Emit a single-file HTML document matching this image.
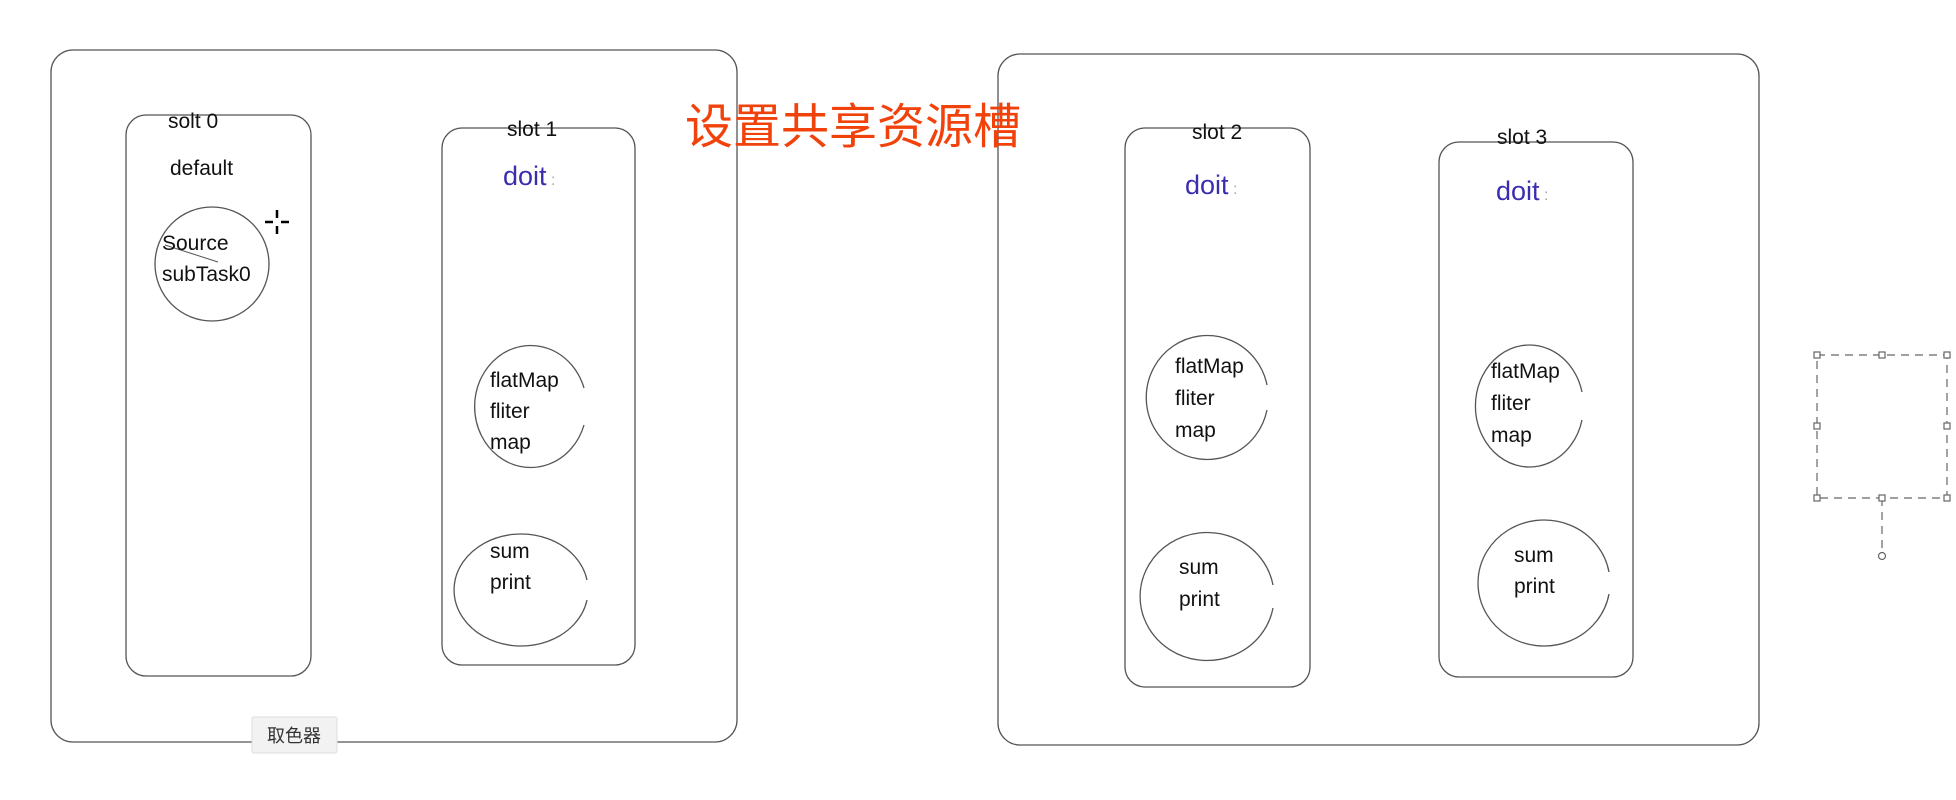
<!DOCTYPE html>
<html><head><meta charset="utf-8"><style>
body{margin:0;background:#fff;width:1956px;height:800px;overflow:hidden}
svg{display:block}
text{font-family:"Liberation Sans","Noto Sans CJK SC",sans-serif;fill:#111}
</style></head><body>
<svg width="1956" height="800" viewBox="0 0 1956 800" xmlns="http://www.w3.org/2000/svg">
<g fill="none" stroke="#555" stroke-width="1.3">
<rect x="51" y="50" width="686" height="692" rx="22"/>
<rect x="998" y="54" width="761" height="691" rx="22"/>
<rect x="126" y="115" width="185" height="561" rx="20"/>
<rect x="442" y="128" width="193" height="537" rx="20"/>
<rect x="1125" y="128" width="185" height="559" rx="20"/>
<rect x="1439" y="142" width="194" height="535" rx="20"/>
<ellipse cx="212" cy="264" rx="57" ry="57"/>
<path d="M584 388 A56 61 0 1 0 584 425"/>
<path d="M587 580 A67 56 0 1 0 587 600"/>
<path d="M1267 385 A61 62 0 1 0 1267 410"/>
<path d="M1273 585 A67 64 0 1 0 1273 608"/>
<path d="M1582 392 A54 61 0 1 0 1582 420"/>
<path d="M1609 572 A66 63 0 1 0 1609 594"/>
<line x1="165" y1="245" x2="218" y2="262" stroke-width="1"/>
</g>
<g stroke="#000" stroke-width="2.5">
<line x1="277" y1="210" x2="277" y2="218"/><line x1="277" y1="226" x2="277" y2="234"/>
<line x1="265" y1="222" x2="273" y2="222"/><line x1="281" y1="222" x2="289" y2="222"/>
</g>
<g font-size="21">
<text x="168" y="128">solt 0</text>
<text x="170" y="175">default</text>
<text x="162" y="250">Source</text>
<text x="162" y="281">subTask0</text>
<text x="507" y="136">slot 1</text>
<text x="490" y="387">flatMap</text><text x="490" y="418">fliter</text><text x="490" y="449">map</text>
<text x="490" y="558">sum</text><text x="490" y="589">print</text>
<text x="1192" y="139">slot 2</text>
<text x="1175" y="373">flatMap</text><text x="1175" y="405">fliter</text><text x="1175" y="437">map</text>
<text x="1179" y="574">sum</text><text x="1179" y="606">print</text>
<text x="1497" y="144">slot 3</text>
<text x="1491" y="378">flatMap</text><text x="1491" y="410">fliter</text><text x="1491" y="442">map</text>
<text x="1514" y="562">sum</text><text x="1514" y="593">print</text>
</g>
<g font-size="27">
<text x="503" y="185" style="fill:#3a2db0">doit<tspan font-size="16" style="fill:#aaa"> :</tspan></text>
<text x="1185" y="194" style="fill:#3a2db0">doit<tspan font-size="16" style="fill:#aaa"> :</tspan></text>
<text x="1496" y="200" style="fill:#3a2db0">doit<tspan font-size="16" style="fill:#aaa"> :</tspan></text>
</g>
<text x="685" y="143" font-size="48" style="fill:#f2420c">设置共享资源槽</text>
<g fill="none" stroke="#666" stroke-width="1.2">
<rect x="1817" y="355" width="130" height="143" stroke-dasharray="8 6"/>
<line x1="1882" y1="498" x2="1882" y2="552" stroke-dasharray="8 6"/>
<circle cx="1882" cy="556" r="3.5"/>
<g fill="#fff">
<rect x="1814" y="352" width="6" height="6"/><rect x="1879" y="352" width="6" height="6"/><rect x="1944" y="352" width="6" height="6"/>
<rect x="1814" y="423" width="6" height="6"/><rect x="1944" y="423" width="6" height="6"/>
<rect x="1814" y="495" width="6" height="6"/><rect x="1879" y="495" width="6" height="6"/><rect x="1944" y="495" width="6" height="6"/>
</g>
</g>
<rect x="252" y="717" width="85" height="36" fill="#f2f2f2" stroke="#ddd" rx="2"/>
<text x="294" y="742" font-size="18" text-anchor="middle" style="fill:#333">取色器</text>
</svg>
</body></html>
